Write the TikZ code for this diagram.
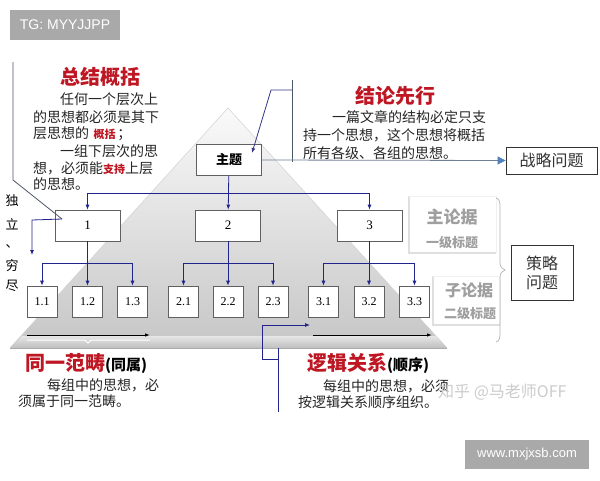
\documentclass[tikz,border=0pt]{standalone}
\usepackage{fontspec}
\setmainfont{Liberation Serif}
\newfontfamily\cjk{Noto Sans CJK SC}
\newfontfamily\lsans{Liberation Sans}
\usetikzlibrary{arrows.meta}
\definecolor{lnavy}{HTML}{23238C}
\definecolor{tred}{HTML}{BE1622}
\definecolor{badge}{HTML}{A9A9A9}
\definecolor{garrow}{HTML}{4F81BD}
\definecolor{lgline}{HTML}{6F7F95}
\tikzset{
  box/.style={draw=gray!75!black, fill=white, line width=0.6pt, minimum width=65pt, minimum height=31pt, inner sep=0pt, font=\fontsize{13}{13}\selectfont},
  sbox/.style={box, minimum width=30pt, minimum height=31pt, font=\fontsize{12}{12}\selectfont},
  conn/.style={draw=lnavy, line width=0.8pt},
  arr/.style={conn, -{Latex[length=5pt,width=4pt]}},
  barr/.style={draw=black, line width=0.9pt, -{Latex[length=5pt,width=3.5pt]}},
  body/.style={anchor=west, inner sep=0pt, font=\cjk\fontsize{14}{14}\selectfont, text=black!85},
  ttl/.style={anchor=center, inner sep=0pt, font=\cjk\bfseries\fontsize{20}{20}\selectfont, text=tred},
  gray label/.style={inner sep=0pt, text=gray!75, font=\cjk\bfseries\fontsize{#1}{#1}\selectfont},
  vtext/.style={inner sep=0pt, font=\cjk\fontsize{13}{13}\selectfont},
  badgebox/.style={fill=badge, inner sep=0pt, text=white, font=\lsans\fontsize{12}{12}\selectfont},
  sidebox/.style={draw=black!80, fill=white, line width=0.8pt, inner sep=0pt, font=\cjk\fontsize{16}{19}\selectfont, text=black!80, align=center}
}
\begin{document}
\begin{tikzpicture}[x=1pt,y=-1pt]
\useasboundingbox (0,0) rectangle (600,480);
\fill[white] (0,0) rectangle (600,480);

% badges
\node[badgebox, minimum width=110pt, minimum height=30pt, font=\lsans\fontsize{14}{14}\selectfont] (tg) at (65,25) {TG: MYYJJPP};
\node[badgebox, minimum width=124pt, minimum height=29pt, font=\lsans\fontsize{13}{13}\selectfont] (www) at (527,454.5) {www.mxjxsb.com};

% pyramid
\shade[top color=white!96!gray, bottom color=gray!45] (228,108) -- (447,348) -- (10,348) -- cycle;
\draw[gray!35, line width=0.5pt] (10,348) -- (228,108) -- (447,348);
\shade[top color=gray!20, bottom color=gray!50] (22,336) -- (436,336) -- (447,348) -- (10,348) -- cycle;
\draw[gray!65, line width=1pt] (10,348) -- (447,348);
\draw[white, line width=1pt] (27,340) -- (85,340) -- (88,343) -- (91,340) -- (150,340);

% side panels
\draw[gray!25, line width=1.4pt] (409,196) -- (409,253) -- (496,253);
\draw[gray!12, line width=0.8pt] (409,196) -- (496,196) -- (496,253);
\draw[gray!25, line width=1.4pt] (433,276) -- (433,325) -- (500,325);
\draw[gray!12, line width=0.8pt] (433,276) -- (500,276) -- (500,325);
\node[gray label=17] (zl) at (452,217) {主论据};
\node[gray label=13] (yj) at (452,243) {一级标题};
\node[gray label=16] (zil) at (469,290) {子论据};
\node[gray label=13] (ej) at (470,314) {二级标题};

% brace
\draw[gray!60, line width=0.7pt] (496,198) .. controls (500,199) and (500,203) .. (500,208) -- (500,262) .. controls (500,267) and (502,269) .. (505,270) .. controls (502,271) and (500,273) .. (500,278) -- (500,332) .. controls (500,337) and (500,341) .. (496,342);

% boxes
\node[box, font=\cjk\bfseries\fontsize{13}{13}\selectfont] (top) at (229,160) {主题};
\node[box] (n1) at (87.5,225.5) {1};
\node[box] (n2) at (228,225.5) {2};
\node[box] (n3) at (369.5,225.5) {3};
\node[sbox] (n11) at (42,301.5) {1.1};
\node[sbox] (n12) at (87.5,301.5) {1.2};
\node[sbox] (n13) at (132.5,301.5) {1.3};
\node[sbox] (n21) at (183.5,301.5) {2.1};
\node[sbox] (n22) at (228,301.5) {2.2};
\node[sbox] (n23) at (273,301.5) {2.3};
\node[sbox] (n31) at (323.5,301.5) {3.1};
\node[sbox] (n32) at (369,301.5) {3.2};
\node[sbox] (n33) at (414.5,301.5) {3.3};

\node[sidebox, minimum width=91pt, minimum height=27pt] (zlwt) at (551.5,160.5) {战略问题};
\node[sidebox, minimum width=62pt, minimum height=55pt] (clwt) at (542,272.5) {策略\\问题};

% tree connectors
\coordinate (b0l) at (87.5,193);
\coordinate (b0r) at (369.5,193);
\draw[conn] (b0l) -- (b0r);
\draw[arr] (top) -- (n2);
\draw[arr] (b0l) -- (n1);
\draw[arr] (b0r) -- (n3);

\coordinate (g1) at (87.5,263);
\draw[conn] (n11 |- g1) -- (n13 |- g1);
\draw[arr] (n1) -- (n12);
\draw[arr] (n11 |- g1) -- (n11);
\draw[arr] (n13 |- g1) -- (n13);

\coordinate (g2) at (228,263);
\draw[conn] (n21 |- g2) -- (n23 |- g2);
\draw[arr] (n2) -- (n22);
\draw[arr] (n21 |- g2) -- (n21);
\draw[arr] (n23 |- g2) -- (n23);

\coordinate (g3) at (369,263);
\draw[conn] (n31 |- g3) -- (n33 |- g3);
\draw[arr] (n3.south -| n32) -- (n32);
\draw[arr] (n31 |- g3) -- (n31);
\draw[arr] (n33 |- g3) -- (n33);

% conclusion connectors
\coordinate (vt) at (292,80);
\coordinate (vb) at (292,162);
\draw[lgline!70!black, line width=0.7pt] (vt) -- (vb);
\coordinate (k1) at (292,90);
\coordinate (k2) at (271,90);
\coordinate (k3) at (252,153);
\draw[arr, draw=lnavy!80!gray] (k1) -- (k2) -- (k3);
\draw[lgline, line width=0.8pt, -{Triangle[length=8pt,width=8pt,fill=garrow,color=garrow]}] (top.east) -- (zlwt.west);

% left connectors
\coordinate (l0) at (13,62);
\coordinate (l1) at (13,180);
\coordinate (l2) at (62,219);
\draw[lgline!70!black, line width=0.8pt] (l0) -- (l1) -- (l2);
\coordinate (l3) at (32,220);
\coordinate (l4) at (32,255);
\draw[arr] (l2) -- (l3) -- (l4);

% bottom connectors
\coordinate (h0) at (278,359);
\coordinate (h1) at (262,359);
\coordinate (h2) at (262,325);
\coordinate (h3) at (310,325);
\draw[arr] (h0) -- (h1) -- (h2) -- (h3);
\coordinate (h4) at (278,348);
\coordinate (h5) at (278,412);
\draw[conn] (h4) -- (h5);

\coordinate (a1) at (27,335);
\coordinate (a2) at (150,335);
\draw[barr] (a1) -- (a2);
\coordinate (a3) at (313,335);
\coordinate (a4) at (432,335);
\draw[barr] (a3) -- (a4);

% vertical text
\node[vtext] (d1) at (12,201) {独};
\node[vtext] (d2) at (12,224) {立};
\node[vtext] (d3) at (12,246) {、};
\node[vtext] (d4) at (12,266) {穷};
\node[vtext] (d5) at (12,286) {尽};

% 总结概括
\node[ttl] (t1) at (100,77) {总结概括};
\node[body] (t1a) at (60,99) {任何一个层次上};
\node[body] (t1b) at (33,117) {的思想都必须是其下};
\node[body] (t1c) at (33,134) {层思想的{\color{tred}\bfseries\fontsize{11}{11}\selectfont\, 概括\,}；};
\node[body] (t1d) at (60,151) {一组下层次的思};
\node[body] (t1e) at (33,168) {想，必须能{\color{tred}\bfseries\fontsize{11}{11}\selectfont 支持}上层};
\node[body] (t1f) at (33,184) {的思想。};

% 结论先行
\node[ttl] (t2) at (395,96) {结论先行};
\node[body] (t2a) at (332,117) {一篇文章的结构必定只支};
\node[body] (t2b) at (303,135) {持一个思想，这个思想将概括};
\node[body] (t2c) at (303,153) {所有各级、各组的思想。};

% 同一范畴
\node[ttl, anchor=west] (t3) at (25,363) {同一范畴{\color{black}\fontsize{15}{15}\selectfont (同属)}};
\node[body] (t3a) at (47,385) {每组中的思想，必};
\node[body] (t3b) at (18,401) {须属于同一范畴。};

% 逻辑关系
\node[ttl, anchor=west] (t4) at (307,363) {逻辑关系{\color{black}\fontsize{15}{15}\selectfont (顺序)}};
\node[body] (t4a) at (323,386) {每组中的思想，必须};
\node[body] (t4b) at (298,402) {按逻辑关系顺序组织。};

% watermark
\node[anchor=west, inner sep=0pt, text=gray!40, font=\cjk\fontsize{16}{16}\selectfont] (wm) at (438,392) {知乎 @马老师OFF};
\end{tikzpicture}
\end{document}
